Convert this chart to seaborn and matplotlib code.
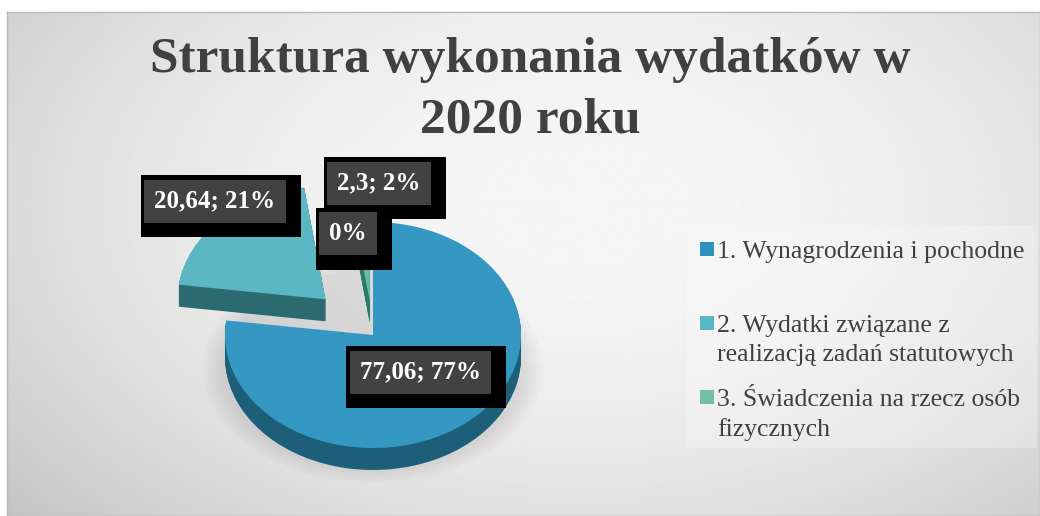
import numpy as np
import matplotlib
matplotlib.use("Agg")
import matplotlib.pyplot as plt
import matplotlib.transforms as mtransforms
from matplotlib.patches import Rectangle, Ellipse
import seaborn as sns

# data
categories = ["1. Wynagrodzenia i pochodne",
              "2. Wydatki związane z\nrealizacją zadań statutowych",
              "3. Świadczenia na rzecz osób\nfizycznych"]
values = [77.06, 20.64, 2.3, 0.0]   # last one is the empty "0%" slice
explode = [0.0, 0.45, 0.3, 0.0]

top_colors = ["#3598C3", "#5BB8C3", "#6CBBA3", "#6CBBA3"]
side_colors = ["#1D5E78", "#2A6A70", "#2C7A6A", "#2C7A6A"]
legend_colors = ["#2E90BC", "#5AB6C2", "#76BFA6"]

sns.set_theme(style="white")
plt.rcParams["font.family"] = ["Liberation Serif", "DejaVu Serif"]

W, H = 1040, 516
fig = plt.figure(figsize=(W / 100, H / 100), dpi=100)
fig.patch.set_facecolor("white")

def fx(px):
    return px / W

def fy(py):
    return 1 - py / H

# background with a soft radial gradient
bg = fig.add_axes([fx(7), 0, 1 - fx(7), 1 - 12 / H])
gx, gy = np.meshgrid(np.linspace(0, 1, 400), np.linspace(0, 1, 200))
r2 = ((gx - 0.56) / 0.75) ** 2 + ((gy - 0.38) / 0.95) ** 2
shade = np.clip(0.965 - 0.2 * r2, 0.76, 1)
bg.imshow(shade, cmap="gray", vmin=0, vmax=1, aspect="auto",
          extent=[0, 1, 1, 0], interpolation="bilinear")
bg.set_xlim(0, 1)
bg.set_ylim(1, 0)
bg.set_xticks([])
bg.set_yticks([])
for s in bg.spines.values():
    s.set_color("#b8b8b8")
    s.set_linewidth(1)

# pie axes: 1 unit = 148 px across, 113 px down
cx, cy, rx, ry = 373, 335, 148, 113
left, right, top, bottom = 60, 680, 140, 505
ax = fig.add_axes([fx(left), fy(bottom), fx(right - left), (bottom - top) / H])
ax.patch.set_alpha(0)

# soft shadow
for k in range(6):
    ax.add_patch(Ellipse((0.0, -0.3), 2.05 + 0.05 * k, 1.75 + 0.05 * k,
                         color="#808080", alpha=0.035, lw=0))

depth = 22 / ry
nlayers = 24
for i in range(nlayers, 0, -1):
    ax.pie(values, explode=explode, colors=side_colors, startangle=90,
           counterclock=False, center=(0, -depth * i / nlayers),
           wedgeprops=dict(linewidth=0), normalize=True)
ax.pie(values, explode=explode, colors=top_colors, startangle=90,
       counterclock=False, wedgeprops=dict(linewidth=0), normalize=True)

ax.set_aspect("auto")
ax.set_xlim(-(cx - left) / rx, (right - cx) / rx)
ax.set_ylim(-(bottom - cy) / ry, (cy - top) / ry)
ax.axis("off")

# title
fig.text(fx(530), fy(37), "Struktura wykonania wydatków w\n2020 roku",
         ha="center", va="top", fontsize=37, fontweight="bold",
         color="#404040", linespacing=1.42)

# data labels: black block behind a dark grey box
total = sum(values)
pcts = [round(v / total * 100) for v in values]
label_txt = [(f"{v:g}".replace(".", ",") + f"; {p}%") if v > 0 else f"{p}%"
             for v, p in zip(values, pcts)]
label_pos = [(420, 372), (215, 201), (379, 183), (348, 234)]

shadow_tr = mtransforms.offset_copy(fig.transFigure, fig=fig, x=6, y=-5, units="dots")
for txt, (px, py) in zip(label_txt, label_pos):
    fig.text(fx(px), fy(py), txt, transform=shadow_tr, ha="center", va="center",
             fontsize=18, fontweight="bold", color="black", zorder=5,
             bbox=dict(boxstyle="square,pad=0.78", fc="black", ec="none"))
    fig.text(fx(px), fy(py), txt, ha="center", va="center",
             fontsize=18, fontweight="bold", color="white", zorder=6,
             bbox=dict(boxstyle="square,pad=0.4", fc="#424242", ec="none"))

# legend
fig.patches.append(Rectangle((fx(687), fy(448)), fx(350), (448 - 225) / H,
                             transform=fig.transFigure, fc="white", alpha=0.25,
                             ec="none", zorder=2))
leg_tops = [242, 316, 390]
for name, col, ty in zip(categories, legend_colors, leg_tops):
    fig.patches.append(Rectangle((fx(700), fy(ty + 14)), fx(14), 14 / H,
                                 transform=fig.transFigure, fc=col, ec="none",
                                 zorder=3))
    fig.text(fx(717), fy(ty - 1), name, ha="left", va="top", fontsize=18.5,
             color="#404040", linespacing=1.4, zorder=3)

fig.savefig("out.png", dpi=100)
